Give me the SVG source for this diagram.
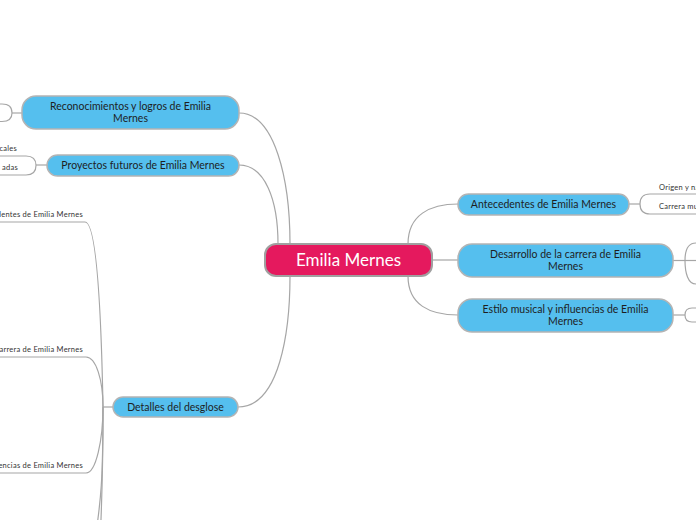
<svg xmlns="http://www.w3.org/2000/svg" width="696" height="520" viewBox="0 0 696 520">
<style>
.bg{fill:#ffffff}
.c{fill:none;stroke:#a6a6a6;stroke-width:1.2}
.n{fill:#55bfee;stroke:#b4b4b4;stroke-width:1.5}
.root{fill:#e5195e;stroke:#a0a0a0;stroke-width:2}
.t{font-family:Lato,"Open Sans",sans-serif;font-size:10.5px;fill:#1e1e1e;text-anchor:middle}
.rt{font-family:Lato,"Open Sans",sans-serif;font-size:17px;fill:#ffffff;text-anchor:middle}
.s{font-family:Lato,"Open Sans",sans-serif;font-size:7.5px;letter-spacing:0.25px;fill:#333333}
</style>
<rect class="bg" x="0" y="0" width="696" height="520"/>
<g id="connectors">
<path class="c" d="M239,113 C275,113 290,180 290,244"/>
<path class="c" d="M239,165 C265,165 278,200 278,244"/>
<path class="c" d="M238,407 C280,407 290,330 290,276"/>
<path class="c" d="M408,244 C408,215 430,204 458,204"/>
<path class="c" d="M432,260 H458"/>
<path class="c" d="M408,276 C408,305 430,315 458,315"/>
<path class="c" d="M22,113 H12"/>
<path class="c" d="M0,104 H2 Q12,104 12,113 Q12,121.5 2,121.5 H0"/>
<path class="c" d="M47,165 H36"/>
<path class="c" d="M0,156 H26 Q36,156 36,165.5 Q36,175 26,175 H0"/>
<path class="c" d="M629,204 H640"/>
<path class="c" d="M696,194 H650 Q640,194 640,204 Q640,214 650,214 H696"/>
<path class="c" d="M673,260.5 H696"/>
<path class="c" d="M685,260.5 C685,250 688,243 696,243"/>
<path class="c" d="M685,260.5 C685,273 688,284 696,284"/>
<path class="c" d="M673,315 H685"/>
<path class="c" d="M696,308 H692 Q685,308 685,315 Q685,322 692,322 H696"/>
<path class="c" d="M113,407 H103"/>
<path class="c" d="M0,222 H85 C96,222 101,300 103,407"/>
<path class="c" d="M0,357 H86 C96,357 103,380 103,407"/>
<path class="c" d="M0,473 H86 C96,473 103,440 103,407"/>
<path class="c" d="M103,407 C103,470 102,510 99,560"/>
<path class="c" d="M103,407 C103,480 101,500 95,540"/>
</g>
<g id="root">
<rect class="root" x="265" y="244" width="167" height="32" rx="11"/>
<text class="rt" x="348.5" y="266">Emilia Mernes</text>
</g>
<g id="n-antecedentes">
<rect class="n" x="458" y="194" width="171" height="21" rx="10.5"/>
<text class="t" x="543.5" y="208">Antecedentes de Emilia Mernes</text>
</g>
<g id="n-desarrollo">
<rect class="n" x="458" y="244" width="215" height="33" rx="14"/>
<text class="t" x="565.5" y="258">Desarrollo de la carrera de Emilia</text>
<text class="t" x="565.5" y="270">Mernes</text>
</g>
<g id="n-estilo">
<rect class="n" x="458" y="299" width="215" height="33" rx="14"/>
<text class="t" x="565.5" y="313">Estilo musical y influencias de Emilia</text>
<text class="t" x="565.5" y="325">Mernes</text>
</g>
<g id="n-reconocimientos">
<rect class="n" x="22" y="96" width="217" height="33" rx="14"/>
<text class="t" x="130.5" y="110">Reconocimientos y logros de Emilia</text>
<text class="t" x="130.5" y="122">Mernes</text>
</g>
<g id="n-proyectos">
<rect class="n" x="47" y="155" width="192" height="21" rx="10.5"/>
<text class="t" x="143" y="169">Proyectos futuros de Emilia Mernes</text>
</g>
<g id="n-detalles">
<rect class="n" x="113" y="397" width="125" height="20" rx="10"/>
<text class="t" x="175.5" y="410.5">Detalles del desglose</text>
</g>
<g id="sub-texts">
<text class="s" x="659" y="190">Origen y na</text>
<text class="s" x="659" y="209">Carrera mu</text>
<text class="s" x="17" y="151" text-anchor="end">cales</text>
<text class="s" x="18" y="170" text-anchor="end">adas</text>
<text class="s" x="83" y="217" text-anchor="end">dentes de Emilia Mernes</text>
<text class="s" x="83" y="352" text-anchor="end">carrera de Emilia Mernes</text>
<text class="s" x="83" y="468" text-anchor="end">encias de Emilia Mernes</text>
</g>
</svg>
